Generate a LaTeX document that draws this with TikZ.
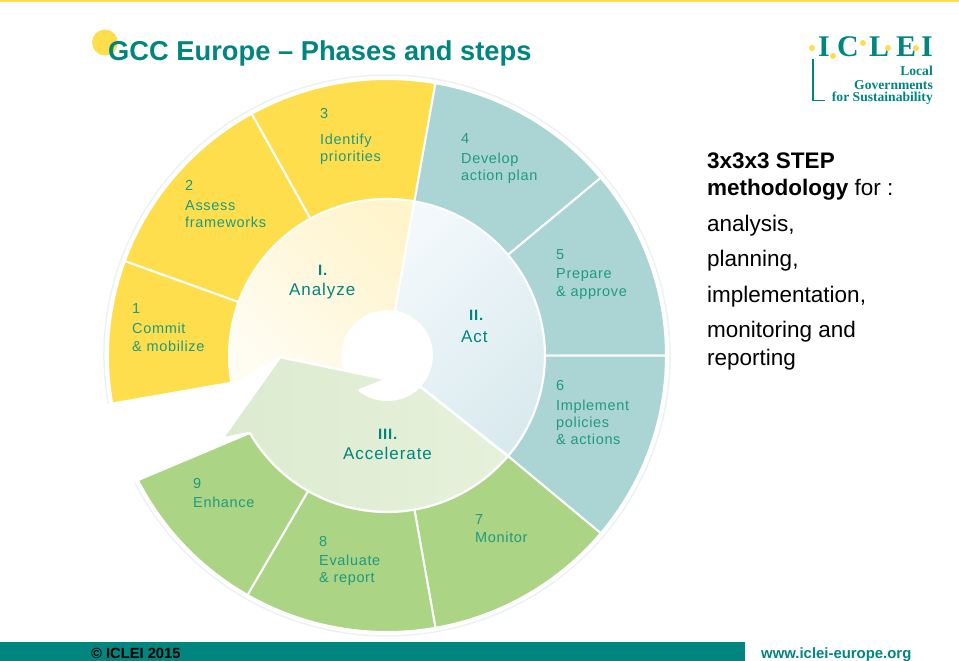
\documentclass[tikz,border=0pt]{standalone}
\usepackage{fontspec}
\setmainfont{Liberation Sans}
\newfontfamily\logofont{Liberation Serif}
\newfontfamily\wheelfont[LetterSpace=4.6]{Liberation Sans}
\newfontfamily\phasefont[LetterSpace=5.5]{Liberation Sans}
\definecolor{iyellow}{HTML}{FFDE4E}
\definecolor{iteal}{HTML}{ABD5D5}
\definecolor{igreen}{HTML}{ABD485}
\definecolor{ink}{HTML}{00857F}
\definecolor{labelc}{HTML}{1F9A80}
\definecolor{ringc}{HTML}{EBF2F5}
\definecolor{creamA}{HTML}{FFF4CC}
\definecolor{creamB}{HTML}{FFFCF2}
\definecolor{actA}{HTML}{F2F8FB}
\definecolor{actB}{HTML}{D9EAEE}
\definecolor{accA}{HTML}{DCEBCF}
\definecolor{accB}{HTML}{E6F1DB}
\tikzset{
  x=1pt,y=-1pt,
  seg/.style={draw=white,line width=2pt,line join=round},
  wlabel/.style={anchor=base west,inner sep=0pt,text=labelc,font=\wheelfont\fontsize{14.5}{16}\selectfont},
  wtitle/.style={anchor=base west,inner sep=0pt,text=ink,font=\phasefont\fontsize{17}{19}\selectfont},
  wnum/.style={anchor=base west,inner sep=0pt,text=ink,font=\phasefont\bfseries\fontsize{15}{16}\selectfont},
  side/.style={anchor=base west,inner sep=0pt,text=black,font=\fontsize{22.5}{25}\selectfont},
  logoletter/.style={anchor=base west,inner sep=0pt,text=ink,font=\logofont\bfseries\fontsize{30}{30}\selectfont},
  logotext/.style={anchor=base east,inner sep=0pt,text=ink,font=\logofont\bfseries\fontsize{13.6}{14}\selectfont},
  logodot/.style={circle,fill=iyellow,inner sep=0pt,minimum size=6pt},
}
\newcommand{\ringseg}[3]{\path[seg,fill=#3] (#1:279pt) arc[start angle=#1,end angle=#2,radius=279pt] -- (#2:158pt) arc[start angle=#2,end angle=#1,radius=158pt] -- cycle;}
\begin{document}
\begin{tikzpicture}
\useasboundingbox (0,0) rectangle (959,661);
% top rule and footer
\fill[iyellow] (0,0) rectangle (959,1.6);
\fill[ink] (0,642) rectangle (745,661);
% title
\fill[iyellow] (105,42.5) circle[radius=13pt];
\node[anchor=base west,inner sep=0pt,text=ink,font=\bfseries\fontsize{27.3}{30}\selectfont] (title) at (108,60.5) {GCC Europe – Phases and steps};
% wheel
\begin{scope}[shift={(387,355.5)},yscale=0.991]
\draw[ringc,line width=1.5pt] (190:283pt) arc[start angle=190,end angle=-153,radius=283pt];
% inner sectors
\path[seg,top color=creamA,bottom color=creamB,shading angle=-45] (80:158pt) arc[start angle=80,end angle=191,radius=158pt] -- (-107pt,-1.5pt) -- (201:44.5pt) arc[start angle=201,end angle=80,radius=44.5pt] -- cycle;
\path[seg,top color=actA,bottom color=actB,shading angle=45] (80:158pt) arc[start angle=80,end angle=-40,radius=158pt] -- (-44:45pt) arc[start angle=-44,end angle=80,radius=45pt] -- cycle;
\path[seg,line width=2.6pt,left color=accA,right color=accB] (-107pt,-1.5pt) -- (0pt,-24pt) -- (232:44.5pt) arc[start angle=232,end angle=316,radius=45pt] -- (-40:158pt) arc[start angle=-40,end angle=-150.3,radius=158pt] -- (-165pt,-84pt) -- cycle;
% outer segments
\ringseg{190}{160}{iyellow}
\ringseg{160}{119}{iyellow}
\ringseg{119}{80}{iyellow}
\ringseg{80}{40}{iteal}
\ringseg{40}{0}{iteal}
\ringseg{0}{-40}{iteal}
\ringseg{-40}{-80}{igreen}
\ringseg{-80}{-120}{igreen}
\path[seg,fill=igreen] (-120:279pt) arc[start angle=-120,end angle=-153.2,radius=279pt] -- (-150.3:158pt) arc[start angle=-150.3,end angle=-120,radius=158pt] -- cycle;
\end{scope}
% step labels
\node[wlabel] (n3) at (320,118) {3};
\node[wlabel] (t3a) at (320,144.5) {Identify};
\node[wlabel] (t3b) at (320,161.5) {priorities};
\node[wlabel] (n4) at (461,143.5) {4};
\node[wlabel] (t4a) at (461,163) {Develop};
\node[wlabel] (t4b) at (461,180) {action plan};
\node[wlabel] (n2) at (185,190) {2};
\node[wlabel] (t2a) at (185,210) {Assess};
\node[wlabel] (t2b) at (185,227) {frameworks};
\node[wlabel] (n1) at (132,313) {1};
\node[wlabel] (t1a) at (132,333) {Commit};
\node[wlabel] (t1b) at (132,351) {\& mobilize};
\node[wlabel] (n5) at (556,259) {5};
\node[wlabel] (t5a) at (556,278) {Prepare};
\node[wlabel] (t5b) at (556,296) {\& approve};
\node[wlabel] (n6) at (556,390) {6};
\node[wlabel] (t6a) at (556,410) {Implement};
\node[wlabel] (t6b) at (556,427) {policies};
\node[wlabel] (t6c) at (556,444) {\& actions};
\node[wlabel] (n7) at (475,524) {7};
\node[wlabel] (t7a) at (475,542) {Monitor};
\node[wlabel] (n8) at (319,546) {8};
\node[wlabel] (t8a) at (319,565) {Evaluate};
\node[wlabel] (t8b) at (319,582) {\& report};
\node[wlabel] (n9) at (193,488) {9};
\node[wlabel] (t9a) at (193,507) {Enhance};
% phase labels
\node[wnum] (p1n) at (318,275) {I.};
\node[wtitle] (p1t) at (289,295) {Analyze};
\node[wnum] (p2n) at (469,320) {II.};
\node[wtitle] (p2t) at (461,342) {Act};
\node[wnum] (p3n) at (378,439) {III.};
\node[wtitle] (p3t) at (343,459) {Accelerate};
% side text
\node[side,font=\bfseries\fontsize{22.5}{25}\selectfont] (s1) at (707,168) {3x3x3 STEP};
\node[side] (s2) at (707,195) {\textbf{methodology} for :};
\node[side] (s3) at (707,231) {analysis,};
\node[side] (s4) at (707,266) {planning,};
\node[side] (s5) at (707,302) {implementation,};
\node[side] (s6) at (707,337) {monitoring and};
\node[side] (s7) at (707,365) {reporting};
% logo
\node[logoletter] (l1) at (818,57) {I};
\node[logoletter] (l2) at (837,57) {C};
\node[logoletter] (l3) at (869,57) {L};
\node[logoletter] (l4) at (896,57) {E};
\node[logoletter] (l5) at (921,57) {I};
\node[logodot] (d1) at (812,48) {};
\node[logodot] (d2) at (833,56) {};
\node[logodot] (d3) at (863,43) {};
\node[logodot] (d4) at (888,48) {};
\node[logodot] (d5) at (916,48) {};
\node[logotext] (g1) at (933,76) {Local};
\node[logotext] (g2) at (933,89) {Governments};
\node[logotext] (g3) at (933,101) {for Sustainability};
\coordinate (la) at (813,59);
\coordinate (lb) at (813,100.5);
\coordinate (lc) at (825,100.5);
\draw[ink,line width=1.2pt] (la) -- (lb) -- (lc);
% footer text
\node[anchor=base west,inner sep=0pt,text=black,font=\bfseries\fontsize{14.7}{16}\selectfont] (f1) at (91,658) {© ICLEI 2015};
\node[anchor=base west,inner sep=0pt,text=ink,font=\bfseries\fontsize{14.9}{16}\selectfont] (f2) at (761,658.5) {www.iclei-europe.org};
\end{tikzpicture}
\end{document}
